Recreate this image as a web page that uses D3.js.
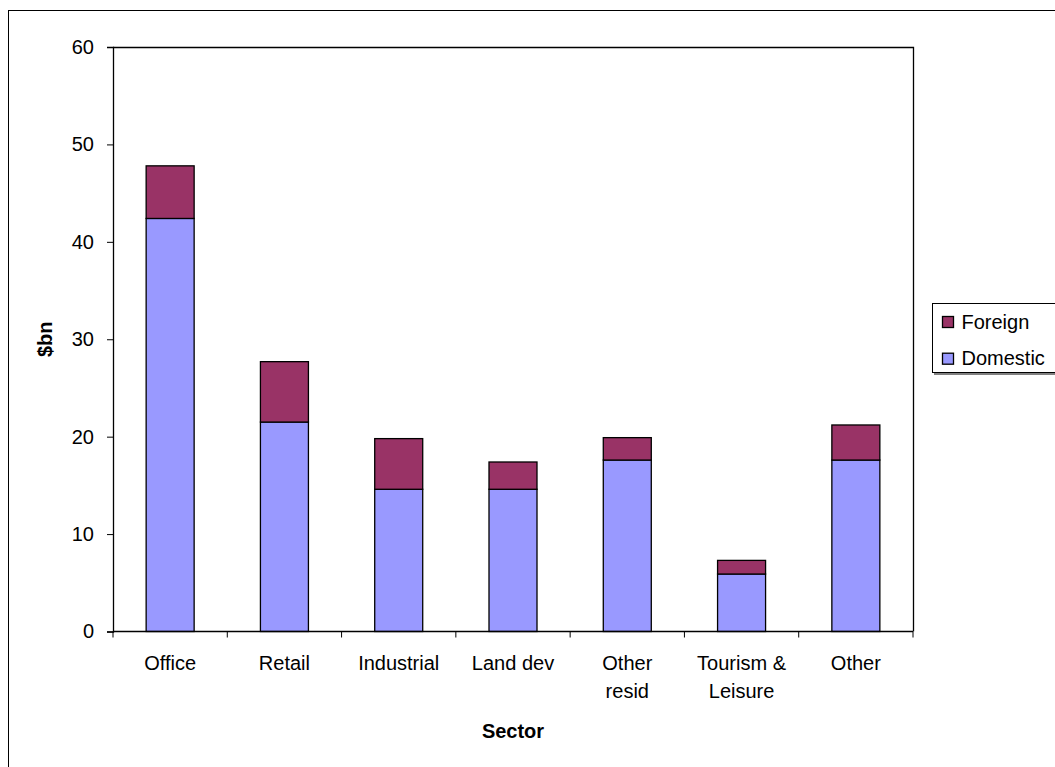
<!DOCTYPE html>
<html>
<head>
<meta charset="utf-8">
<script src="https://cdn.jsdelivr.net/npm/d3@7"></script>
<style>
  body { margin: 0; background: #fff; }
  svg { display: block; font-family: "Liberation Sans", Arial, sans-serif; }
</style>
</head>
<body>
<svg id="chart" width="1055" height="767"></svg>
<script>
// Investment by sector, $bn
const sectors = ["Office", "Retail", "Industrial", "Land dev", "Other resid", "Tourism & Leisure", "Other"];
const sectorLines = [["Office"], ["Retail"], ["Industrial"], ["Land dev"], ["Other", "resid"], ["Tourism &", "Leisure"], ["Other"]];
const domestic = [42.4, 21.5, 14.6, 14.6, 17.6, 5.9, 17.6];
const foreign = [5.4, 6.2, 5.2, 2.8, 2.3, 1.4, 3.6];
const yTicks = [0, 10, 20, 30, 40, 50, 60];
const seriesNames = ["Domestic", "Foreign"];
const seriesColors = { Domestic: "#9999ff", Foreign: "#993366" };

const svg = d3.select("#chart");
const plot = { left: 113, top: 47, right: 913, bottom: 631.5 };
const FONT = 20;

// outer chart frame
svg.append("rect")
  .attr("x", 8.5).attr("y", 10.5)
  .attr("width", 1100).attr("height", 800)
  .attr("fill", "#fff").attr("stroke", "#000").attr("stroke-width", 1);

const x = d3.scaleBand().domain(sectors).range([plot.left, plot.right]).paddingInner(0.58).paddingOuter(0.29);
const xEdges = d3.scaleLinear().domain([0, sectors.length]).range([plot.left, plot.right]);
const y = d3.scaleLinear().domain([0, 60]).range([plot.bottom, plot.top]);

// plot-area border (top and right)
svg.append("path")
  .attr("d", `M${plot.left},${plot.top + 0.5}H${plot.right + 0.5}V${plot.bottom}`)
  .attr("fill", "none").attr("stroke", "#000").attr("stroke-width", 1.3);

// stacked bars
const rows = sectors.map((s, i) => ({ sector: s, Domestic: domestic[i], Foreign: foreign[i] }));
const stack = d3.stack().keys(seriesNames)(rows);
svg.append("g").selectAll("g").data(stack).join("g")
  .attr("fill", d => seriesColors[d.key])
  .selectAll("rect").data(d => d).join("rect")
  .attr("x", d => x(d.data.sector))
  .attr("width", x.bandwidth())
  .attr("y", d => y(d[1]))
  .attr("height", d => y(d[0]) - y(d[1]))
  .attr("stroke", "#000").attr("stroke-width", 1.3);

// y axis
const yAxis = svg.append("g")
  .attr("transform", `translate(${plot.left},0)`)
  .call(d3.axisLeft(y).tickValues(yTicks).tickSize(6).tickPadding(13));
yAxis.select(".domain").attr("stroke", "#000").attr("stroke-width", 1.3);
yAxis.selectAll(".tick line").attr("stroke", "#000");
yAxis.selectAll(".tick text").attr("font-size", FONT).attr("fill", "#000")
  .attr("font-family", "Liberation Sans, Arial, sans-serif");

// x axis: baseline with ticks at category edges
const xg = svg.append("g");
xg.append("line")
  .attr("x1", plot.left).attr("x2", plot.right)
  .attr("y1", plot.bottom).attr("y2", plot.bottom)
  .attr("stroke", "#000").attr("stroke-width", 1.3);
xg.selectAll("line.tick").data(d3.range(sectors.length + 1)).join("line")
  .attr("class", "tick")
  .attr("x1", d => xEdges(d)).attr("x2", d => xEdges(d))
  .attr("y1", plot.bottom).attr("y2", plot.bottom + 6)
  .attr("stroke", "#000");

// category labels
xg.selectAll("text.cat").data(sectors).join("text")
  .attr("class", "cat")
  .attr("x", d => x(d) + x.bandwidth() / 2)
  .attr("y", 670)
  .attr("text-anchor", "middle")
  .attr("font-size", FONT).attr("fill", "#000")
  .each(function (d, i) {
    d3.select(this).selectAll("tspan").data(sectorLines[i]).join("tspan")
      .attr("x", x(d) + x.bandwidth() / 2)
      .attr("dy", (l, j) => j === 0 ? 0 : 28)
      .text(l => l);
  });

// axis titles
svg.append("text")
  .attr("x", (plot.left + plot.right) / 2).attr("y", 738)
  .attr("text-anchor", "middle").attr("font-size", FONT).attr("font-weight", "bold")
  .text("Sector");
svg.append("text")
  .attr("transform", `translate(52,${(plot.top + plot.bottom) / 2}) rotate(-90)`)
  .attr("text-anchor", "middle").attr("font-size", FONT).attr("font-weight", "bold")
  .text("$bn");

// legend
const legend = svg.append("g").attr("transform", "translate(932,303)");
legend.append("rect").attr("x", 2).attr("y", 2).attr("width", 160).attr("height", 70)
  .attr("fill", "#808080");
legend.append("rect").attr("x", 0.5).attr("y", 0.5).attr("width", 160).attr("height", 69)
  .attr("fill", "#fff").attr("stroke", "#000").attr("stroke-width", 1);
const legendOrder = ["Foreign", "Domestic"];
const li = legend.selectAll("g.item").data(legendOrder).join("g")
  .attr("class", "item")
  .attr("transform", (d, i) => `translate(10.5,${13.5 + i * 36.7})`);
li.append("rect").attr("width", 11).attr("height", 11)
  .attr("fill", d => seriesColors[d]).attr("stroke", "#000").attr("stroke-width", 1.3);
li.append("text").attr("x", 19).attr("y", 12).attr("font-size", FONT).text(d => d);
</script>
</body>
</html>
